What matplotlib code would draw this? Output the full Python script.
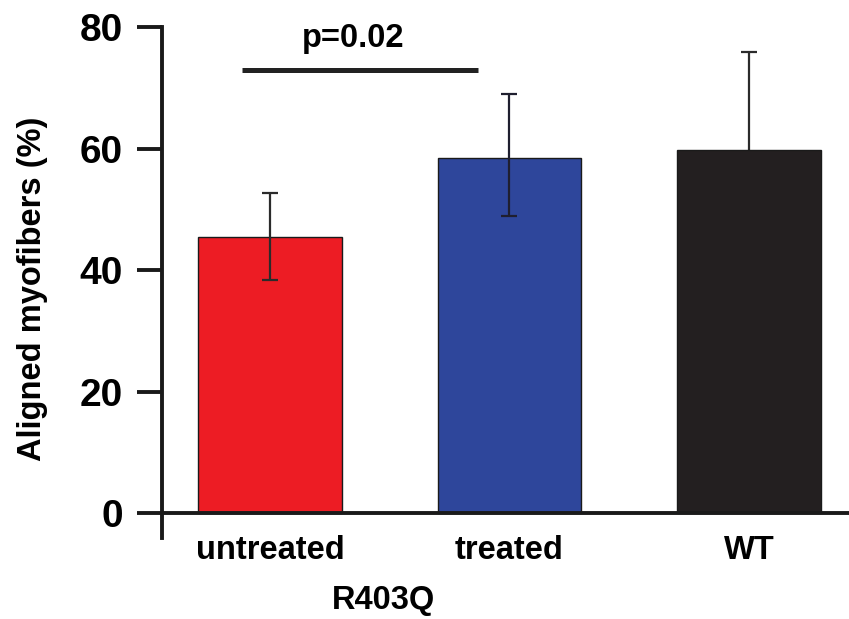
import matplotlib.pyplot as plt

plt.rcParams['font.family'] = ['Liberation Sans', 'DejaVu Sans']
plt.rcParams['font.weight'] = 'bold'

# data
groups = ['untreated', 'treated', 'WT']
means = [45.4, 58.5, 59.7]
err_low = [7.1, 9.6, 16.2]
err_high = [7.2, 10.4, 16.2]
colors = ['#ED1C24', '#2E469B', '#231F20']
err_colors = ['#2b2b2b', '#1f1f2f', '#2b2b2b']
p_text = 'p=0.02'
p_level = 72.9

fig = plt.figure(figsize=(8.49, 6.19), dpi=100)
ax = fig.add_axes([0.1908, 0.1309, 0.8092, 0.8255])

x = list(range(len(groups)))
ax.bar(x, means, width=0.6, color=colors, edgecolor='#1a1a1a', linewidth=1, zorder=2)
for i in x:
    # error bars sit behind the bars so the lower WT half is hidden by the black fill
    z = 1 if i == 2 else 3
    ax.errorbar(i, means[i], yerr=[[err_low[i]], [err_high[i]]], fmt='none',
                ecolor=err_colors[i], elinewidth=1.6, capsize=5.8, capthick=1.6, zorder=z)

# significance bar between untreated and treated
ax.plot([-0.117, 0.868], [p_level, p_level], color='#222222', lw=3.6,
        solid_capstyle='butt', zorder=3)
ax.text(0.347, 76.7, p_text, ha='center', va='baseline', fontsize=23.5,
        fontweight='bold')

ax.set_xlim(-0.451, 2.418)
ax.set_ylim(-4.1, 80)
ax.set_yticks([0, 20, 40, 60, 80])
ax.set_xticks(x)
ax.set_xticklabels(groups)

for s in ['top', 'right']:
    ax.spines[s].set_visible(False)
ax.spines['bottom'].set_position(('data', 0))
ax.spines['left'].set_bounds(-4.1, 80)
for s in ['left', 'bottom']:
    ax.spines[s].set_linewidth(2.8)
    ax.spines[s].set_color('#1a1a1a')

ax.tick_params(axis='y', direction='out', length=18, width=2.8, pad=10,
               labelsize=28, color='#1a1a1a')
ax.tick_params(axis='x', length=0, pad=16, labelsize=23.5)

ax.set_ylabel('Aligned myofibers (%)', fontsize=23.5, fontweight='bold', va='center')
ax.yaxis.set_label_coords(-0.188, 0.487)

fig.text(383 / 849, 1 - 600 / 619, 'R403Q', ha='center', va='center',
         fontsize=23.5, fontweight='bold')

fig.savefig('out.png', dpi=100)
